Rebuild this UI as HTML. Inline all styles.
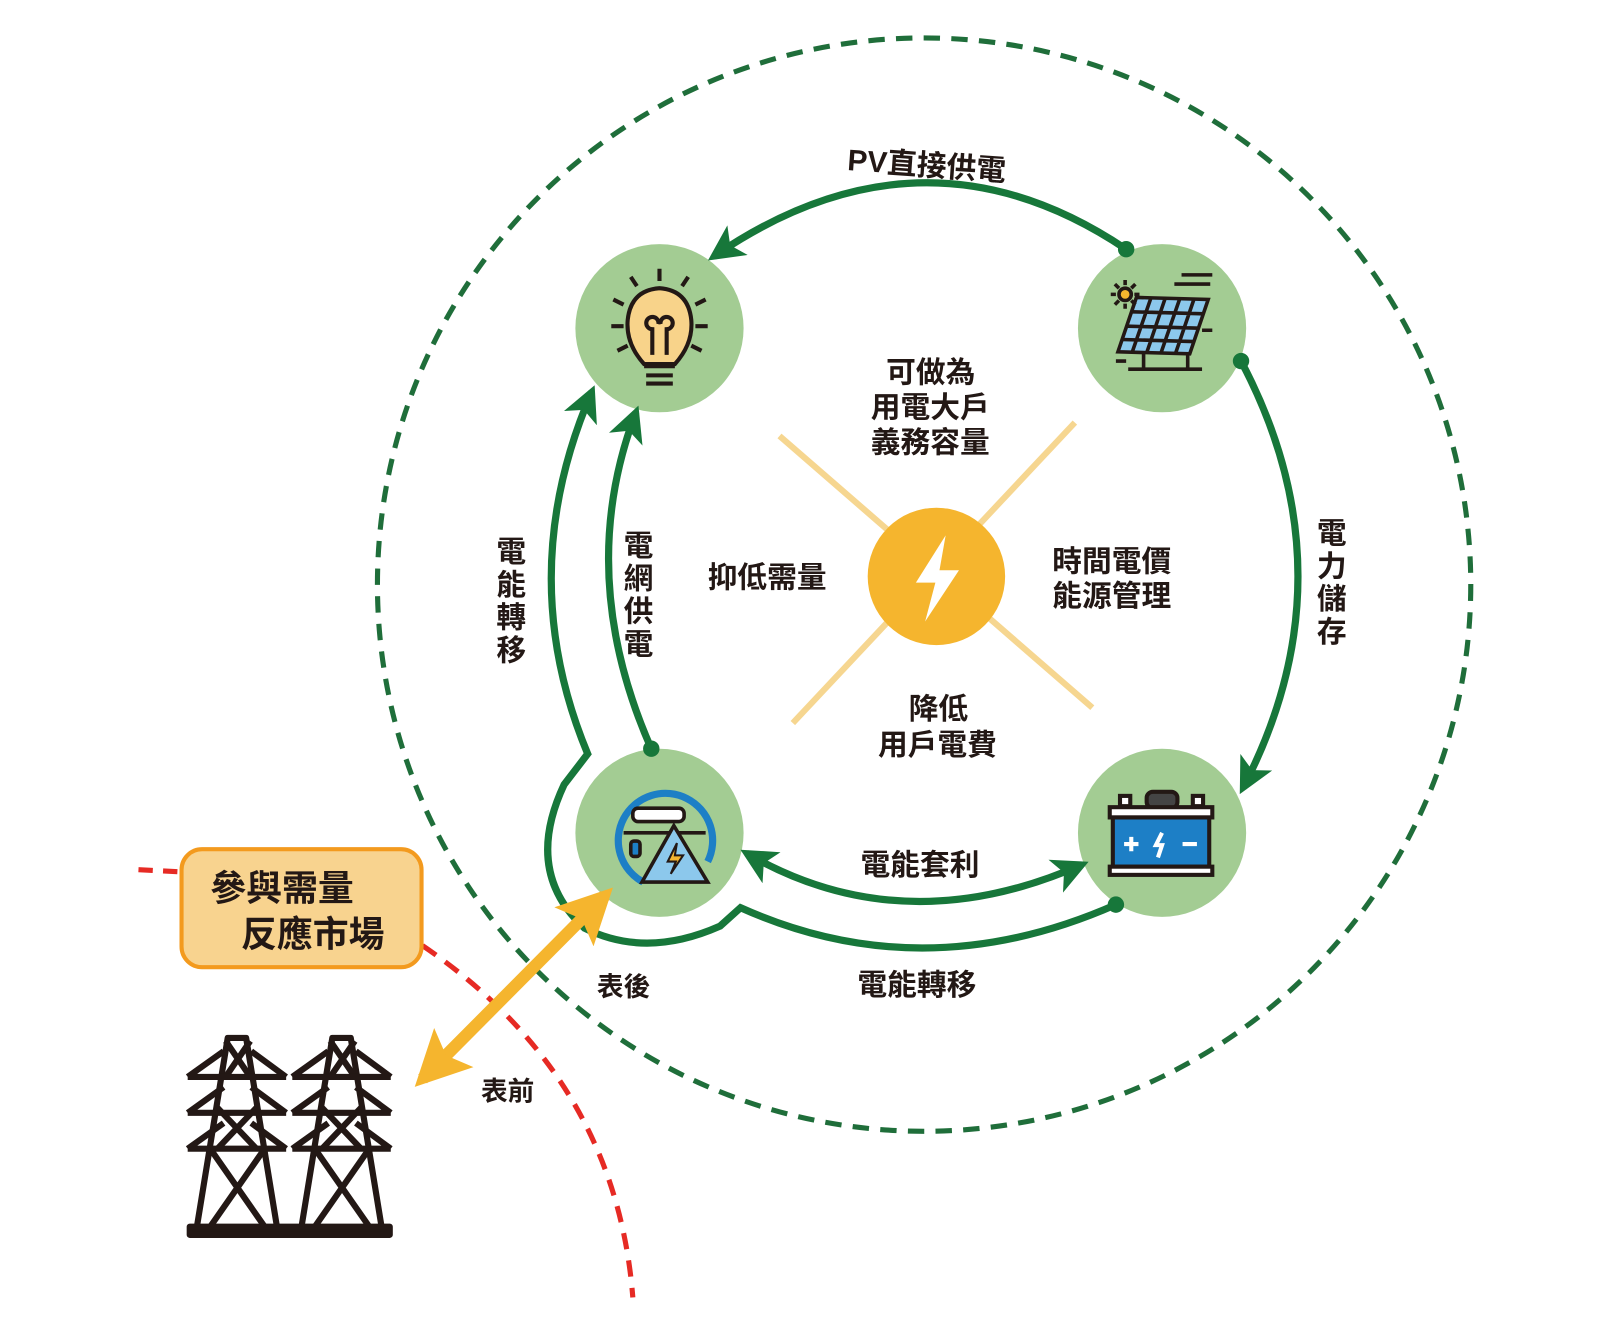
<!DOCTYPE html>
<html><head><meta charset="utf-8"><style>
html,body{margin:0;padding:0;background:#fff;}
svg{display:block}
text{font-family:"Liberation Sans","Noto Sans CJK TC",sans-serif;fill:#231815;font-weight:bold}
</style></head><body>
<svg width="1600" height="1320" viewBox="0 0 1560 1287" xmlns="http://www.w3.org/2000/svg">
<defs>
<marker id="ga" viewBox="0 0 10 10" refX="8" refY="5" markerWidth="5" markerHeight="5" orient="auto-start-reverse" markerUnits="strokeWidth"><path d="M0,0 L10,5 L0,10 L2.5,5z" fill="#17773a"/></marker>
<marker id="ya" viewBox="0 0 10 10" refX="8" refY="5" markerWidth="4.5" markerHeight="4.5" orient="auto-start-reverse" markerUnits="strokeWidth"><path d="M0,0 L10,5 L0,10 L2,5z" fill="#f5b52e"/></marker>
</defs>
<circle cx="901" cy="570" r="533" fill="none" stroke="#1f6e3a" stroke-width="5" stroke-dasharray="16 11"/>
<path d="M135,848 L175,850" stroke="#e62a24" stroke-width="5" stroke-dasharray="14 10" fill="none"/>
<path d="M412,922 Q600,1050 617,1265" stroke="#e62a24" stroke-width="5" stroke-dasharray="16 11" fill="none"/>
<line x1="760" y1="425" x2="1065" y2="690" stroke="#f6d690" stroke-width="6"/>
<line x1="1048" y1="412" x2="773" y2="705" stroke="#f6d690" stroke-width="6"/>
<circle cx="643" cy="320" r="82" fill="#a3cc93"/>
<circle cx="1133" cy="320" r="82" fill="#a3cc93"/>
<circle cx="643" cy="812" r="82" fill="#a3cc93"/>
<circle cx="1133" cy="812" r="82" fill="#a3cc93"/>
<circle cx="913" cy="562" r="67" fill="#f5b52e"/>
<path d="M922,522 L893,568 L912,568 L902,606 L935,556 L916,556 Z" fill="#fff"/>
<g fill="none" stroke="#17773a" stroke-width="7">
<path d="M1098,243 Q900,110 696,250" marker-end="url(#ga)"/>
<path d="M1210,352 Q1320,560 1212,768" marker-end="url(#ga)"/>
<path d="M635,730 Q560,560 620,402" marker-end="url(#ga)"/>
<path d="M1088,882 Q900,965 722,885 L702,903 Q630,935 570,905 Q510,850 550,765 L573,735 Q500,560 577,382" marker-end="url(#ga)"/>
<path d="M728,832 Q880,920 1055,843" marker-start="url(#ga)" marker-end="url(#ga)"/>
</g>
<g fill="#17773a"><circle cx="1098" cy="243" r="8"/><circle cx="1210" cy="352" r="8"/><circle cx="635" cy="730" r="8"/><circle cx="1088" cy="882" r="8"/></g>
<line x1="590" y1="873" x2="412" y2="1052" stroke="#f5b52e" stroke-width="12" marker-start="url(#ya)" marker-end="url(#ya)"/>
<g stroke="#231815" stroke-width="4" fill="none">
<path d="M628,355 Q610,335 612,312 Q615,283 643,281 Q671,283 674,312 Q676,335 658,355 Z" fill="#f8d38a"/>
<path d="M628,357 h30 M630,366 h26 M630,374 h26" />
<path d="M636,346 v-25 a6,6 0 1 1 6,-5 M650,346 v-25 a6,6 0 1 0 -6,-5"/>
<path d="M643,262 v12 M615,270 l6,9 M671,270 l-6,9 M598,292 l10,5 M688,292 l-10,5 M596,318 h12 M690,318 h-12 M602,342 l10,-5 M684,342 l-10,-5"/>
</g>
<g stroke="#231815" stroke-width="3.5">
<path d="M1108,290 L1178,292 L1160,345 L1090,343 Z" fill="#8cc8ec"/>
<path d="M1104,304 L1174,306 M1099,318 L1169,320 M1094,331 L1164,333 M1122,291 L1104,343 M1136,291 L1118,344 M1150,292 L1132,344 M1164,292 L1146,345" fill="none"/>
<path d="M1115,345 v14 M1158,345 v14 M1100,360 h72 M1145,277 h35 M1152,268 h30 M1088,352 h10 M1172,322 h10" fill="none"/>
<circle cx="1097" cy="287" r="6" fill="#f5b52e"/>
<path d="M1097,273 v5 M1097,296 v5 M1083,287 h5 M1106,287 h5 M1087,277 l4,4 M1107,277 l-4,4 M1087,297 l4,-4 M1107,297 l-4,-4" fill="none"/>
</g>
<g stroke="#231815" stroke-width="3.5">
<path d="M627,860 A46,46 0 1 1 690,840" fill="none" stroke="#1d7fc6" stroke-width="7"/>
<rect x="617" y="788" width="50" height="13" rx="5" fill="#fff"/>
<path d="M608,812 h80" fill="none"/>
<rect x="615" y="820" width="9" height="15" rx="3" fill="#1d7fc6"/>
<path d="M626,860 L657,805 L690,860 Z" fill="#8cc8ec"/>
<path d="M660,822 L651,840 L659,840 L654,852 L666,834 L658,834 Z" fill="#f5b52e" stroke-width="2"/>
</g>
<g stroke="#231815" stroke-width="4">
<rect x="1118" y="772" width="30" height="16" rx="6" fill="#444"/>
<rect x="1092" y="776" width="10" height="10" fill="#fff"/><rect x="1163" y="776" width="10" height="10" fill="#fff"/>
<rect x="1082" y="787" width="100" height="10" fill="#fff"/>
<rect x="1085" y="797" width="94" height="48" fill="#1d7fc6"/>
<rect x="1082" y="845" width="100" height="8" fill="#fff"/>
<path d="M1096,823 h14 M1103,816 v14 M1153,823 h14 M1133,812 l-6,12 h6 l-4,12" fill="none" stroke="#fff"/>
</g>
<g stroke="#231815" stroke-width="6" fill="none" stroke-linejoin="round">
<rect x="185" y="1196" width="195" height="8" fill="#231815"/>
<g id="tw">
<path d="M192,1196 L222,1012 h18 L270,1196"/>
<path d="M205,1120 L258,1196 M258,1120 L205,1196 M212,1080 L250,1120 M250,1080 L212,1120 M220,1015 L244,1050 M244,1015 L220,1050"/>
<path d="M183,1050 L218,1025 M279,1050 L245,1025 M183,1050 h96 M183,1085 L218,1060 M279,1085 L245,1060 M183,1085 h96 M183,1120 L218,1095 M279,1120 L245,1095 M183,1120 h96"/>
</g>
<use href="#tw" transform="translate(102,0)"/>
</g>
<rect x="177" y="828" width="234" height="115" rx="20" fill="#f8d38f" stroke="#f39a1e" stroke-width="4"/>
<text x="205" y="878" font-size="35">參與需量</text>
<text x="235" y="923" font-size="35">反應市場</text>
<g font-size="29">
<text x="826" y="172" transform="rotate(4 915 165)">PV直接供電</text>
<text x="864" y="373">可做為</text>
<text x="849" y="407">用電大戶</text>
<text x="849" y="441">義務容量</text>
<text x="690" y="573">抑低需量</text>
<text x="1026" y="557">時間電價</text>
<text x="1026" y="591">能源管理</text>
<text x="886" y="701">降低</text>
<text x="856" y="736">用戶電費</text>
<text x="839" y="853">電能套利</text>
<text x="836" y="970">電能轉移</text>
<text x="582" y="971" font-size="26">表後</text>
<text x="469" y="1073" font-size="26">表前</text>
</g>
<g font-size="29">
<text x="484" y="548">電</text><text x="484" y="580">能</text><text x="484" y="612">轉</text><text x="484" y="644">移</text>
<text x="608" y="542">電</text><text x="608" y="574">網</text><text x="608" y="606">供</text><text x="608" y="638">電</text>
<text x="1284" y="530">電</text><text x="1284" y="562">力</text><text x="1284" y="594">儲</text><text x="1284" y="626">存</text>
</g>
</svg>
</body></html>
